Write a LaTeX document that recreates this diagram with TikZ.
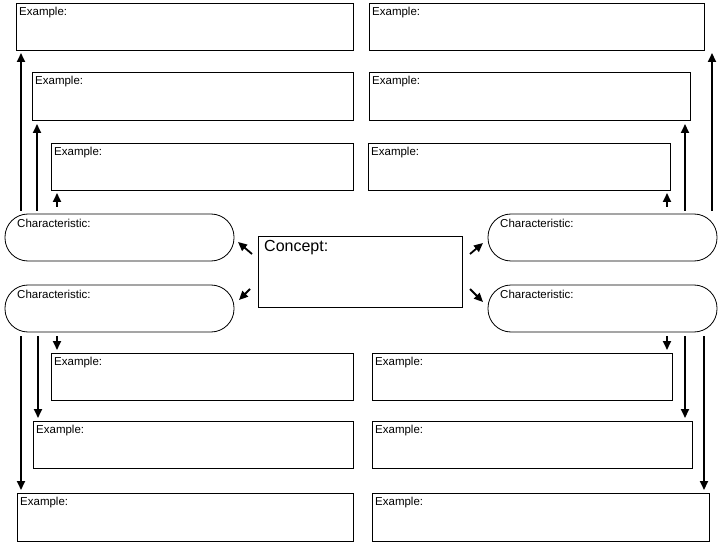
\documentclass[tikz,border=0pt]{standalone}
\usepackage{fontspec}
\setmainfont{Liberation Sans}
\usetikzlibrary{arrows.meta}
\tikzset{
  exbox/.style={draw, thick, fill=white},
  lab/.style={font=\fontsize{11.5}{13}\selectfont, anchor=north west, inner sep=0pt},
  arr/.style={-{Triangle[length=9pt,width=8pt]}, line width=1.8pt},
}
\begin{document}
\begin{tikzpicture}[x=1pt, y=-1pt]
		\useasboundingbox (0,0) rectangle (725,545);
		% example boxes, left and right
		\foreach \n/\xa/\xb/\ya/\yb in {l1/16/353/3/50, l2/32/353/72/120, l3/51/353/143/190,
		  l4/51/353/353/400, l5/33/353/421/468, l6/17/353/493/541,
		  r1/369/704/3/50, r2/369/690/72/120, r3/368/670/143/190,
		  r4/372/672/353/400, r5/372/692/421/468, r6/372/709/493/541}
		{
		\draw [exbox] (\xa,\ya) rectangle (\xb,\yb);
		\node [lab] (\n) at (\xa+3,\ya+4) {Example:};
		}
		% characteristics
		\foreach \n/\xa/\ya in {cl1/5/214, cl2/5/285, cr1/488/214, cr2/488/285}
		{
		\draw [exbox, rounded corners=23pt] (\xa,\ya) rectangle (\xa+229,\ya+47);
		\node [lab] (\n) at (\xa+12,\ya+5) {Characteristic:};
		}
		% concept
		\draw [exbox] (258,236) rectangle (462,307);
		\node [lab, font=\fontsize{16}{18}\selectfont] (con) at (264,240) {Concept:};
		
		% upward arrows
		\draw [arr] (21,211) -- (21,53);
		\draw [arr] (37,211) -- (37,124);
		\draw [arr] (57,207) -- (57,193);
		\draw [arr] (712,211) -- (712,53);
		\draw [arr] (685,211) -- (685,124);
		\draw [arr] (667,207) -- (667,193);
		% downward arrows
		\draw [arr] (21,336) -- (21,490);
		\draw [arr] (38,336) -- (38,418);
		\draw [arr] (57,336) -- (57,350);
		\draw [arr] (704,336) -- (704,490);
		\draw [arr] (685,336) -- (685,418);
		\draw [arr] (667,336) -- (667,350);
		% from concept
		\draw [arr] (252,254) -- (238,242);
		\draw [arr] (250,289) -- (239,300);
		\draw [arr] (470,254) -- (483,243);
		\draw [arr] (470,289) -- (483,302);
\end{tikzpicture}
\end{document}
